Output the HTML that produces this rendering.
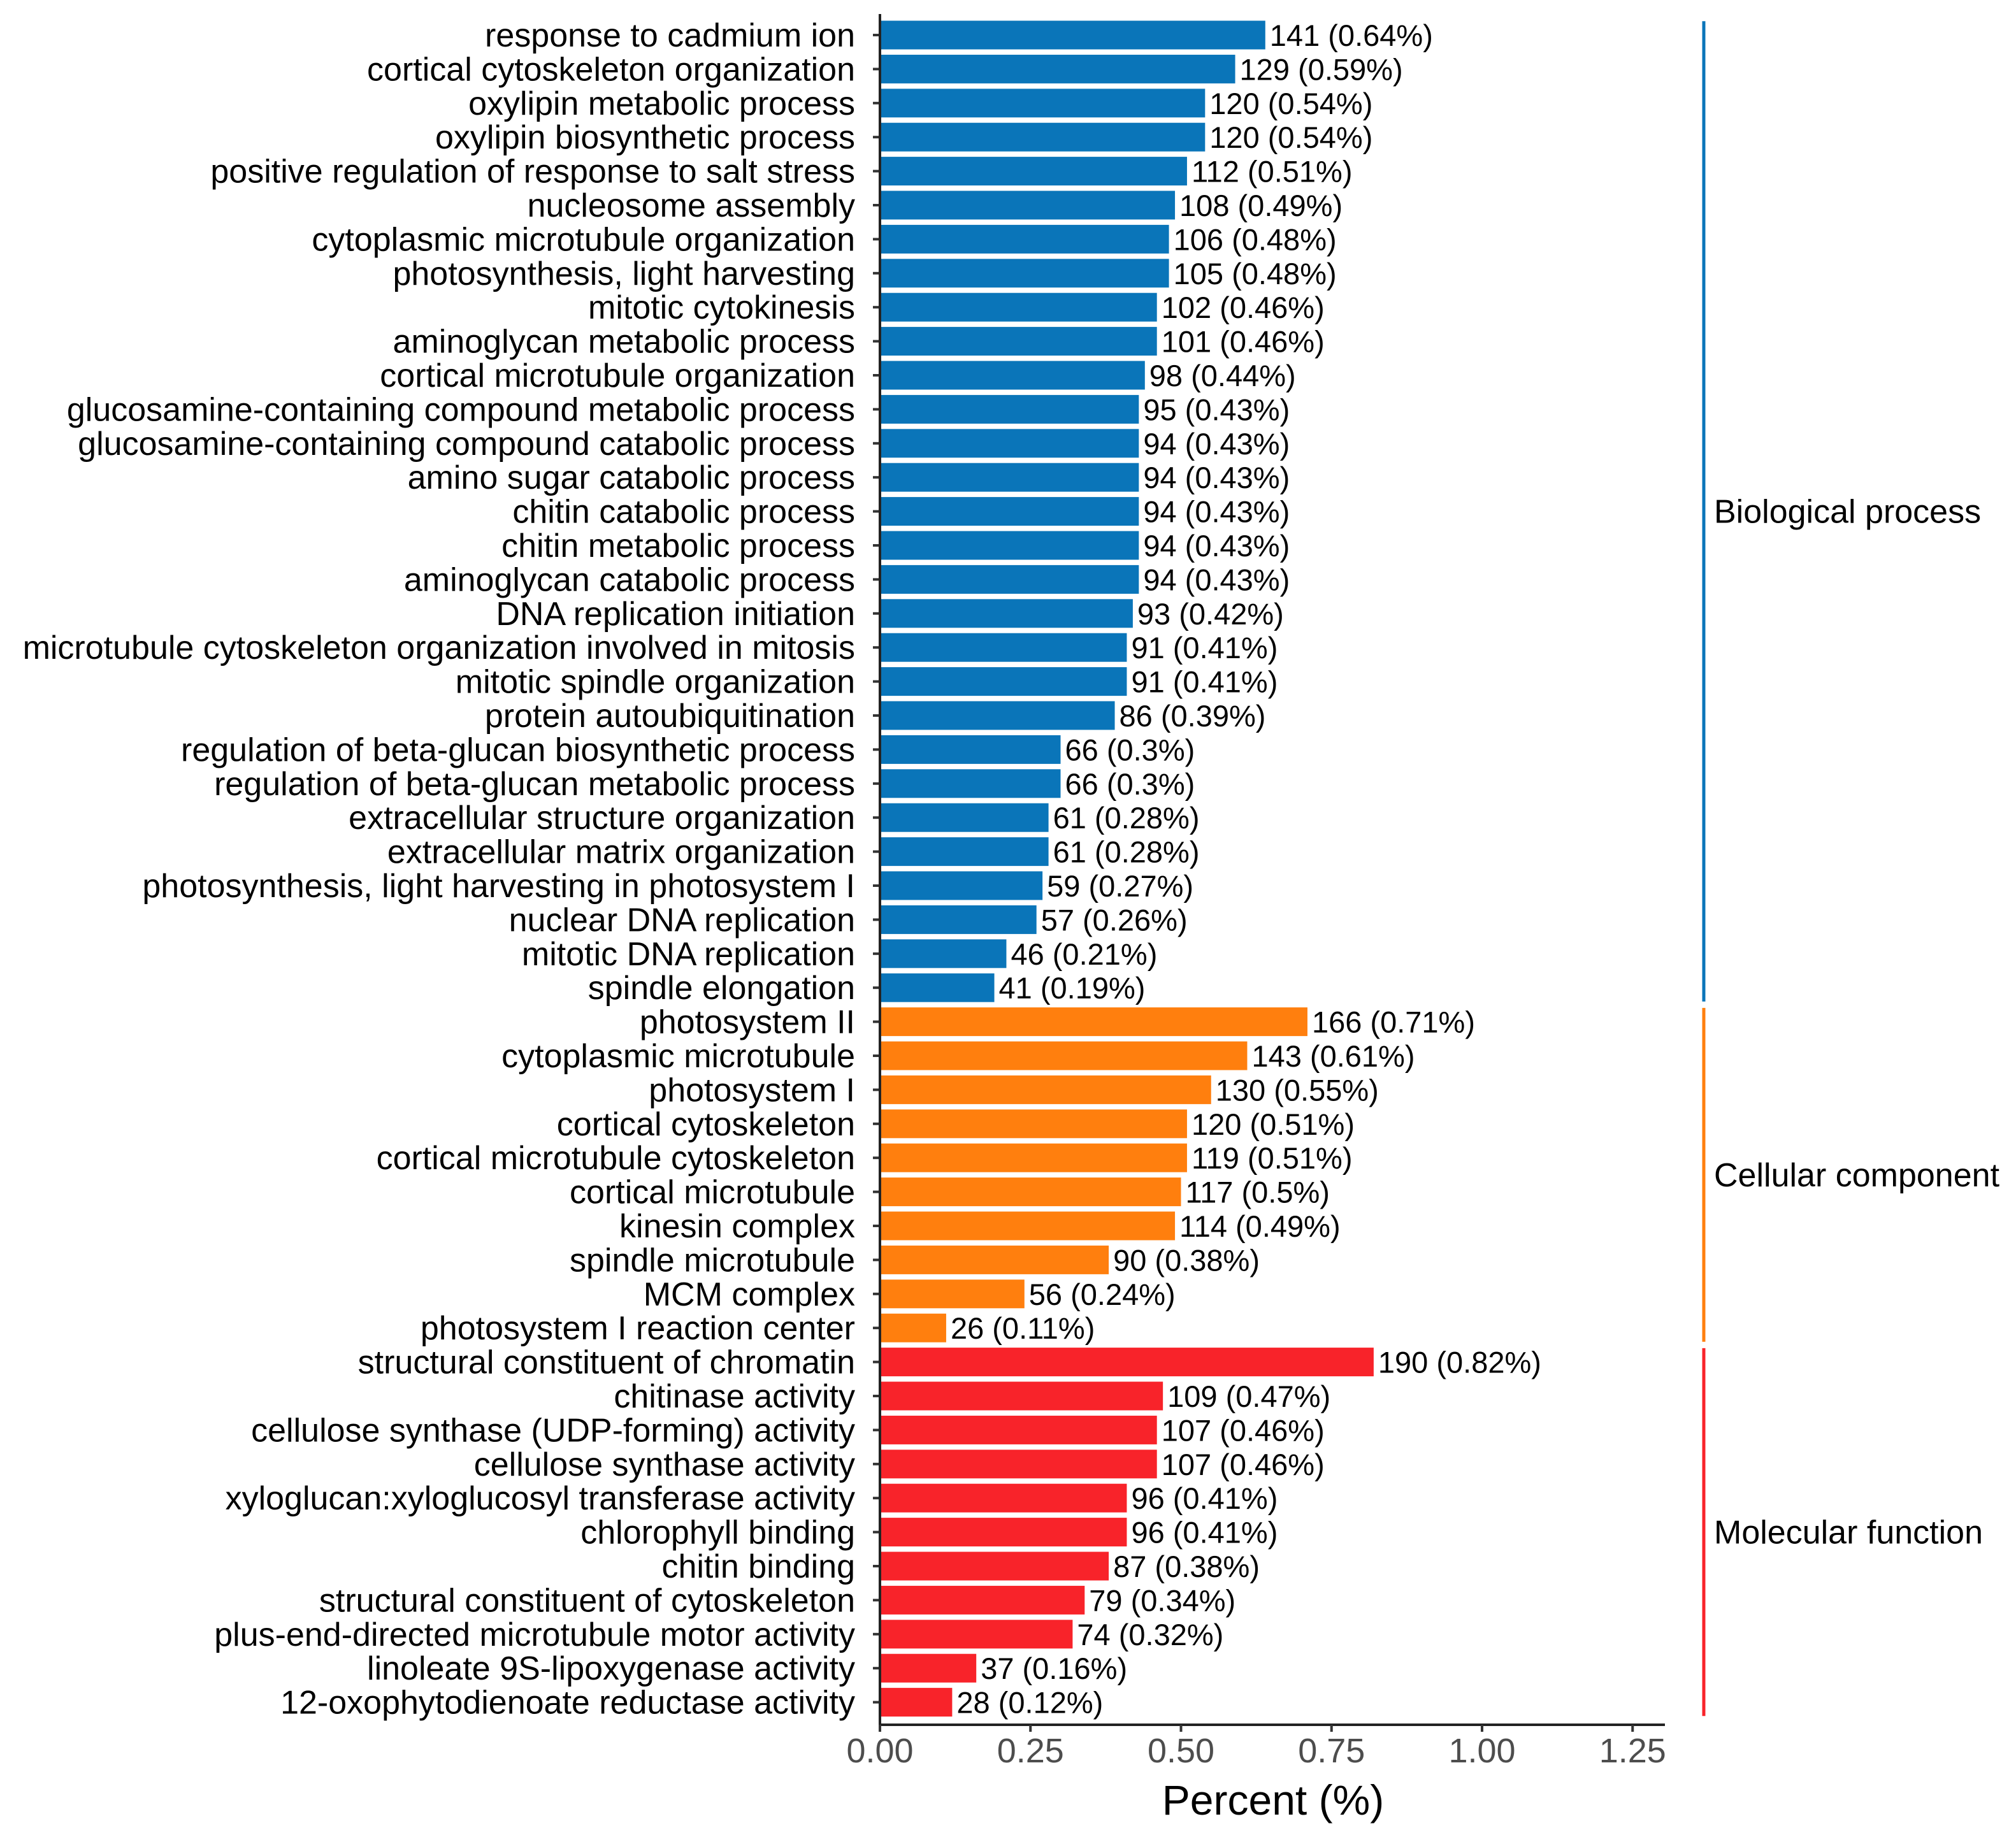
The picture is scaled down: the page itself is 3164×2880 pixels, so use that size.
<!DOCTYPE html>
<html><head><meta charset="utf-8"><style>
html,body{margin:0;padding:0;background:#fff;}
svg{display:block;font-family:"Liberation Sans",Arial,sans-serif;}
</style></head><body>
<svg id="chart" width="3164" height="2880" viewBox="0 0 3164 2880" xmlns="http://www.w3.org/2000/svg"></svg>
<script>
const categories = ["response to cadmium ion","cortical cytoskeleton organization","oxylipin metabolic process","oxylipin biosynthetic process","positive regulation of response to salt stress","nucleosome assembly","cytoplasmic microtubule organization","photosynthesis, light harvesting","mitotic cytokinesis","aminoglycan metabolic process","cortical microtubule organization","glucosamine-containing compound metabolic process","glucosamine-containing compound catabolic process","amino sugar catabolic process","chitin catabolic process","chitin metabolic process","aminoglycan catabolic process","DNA replication initiation","microtubule cytoskeleton organization involved in mitosis","mitotic spindle organization","protein autoubiquitination","regulation of beta-glucan biosynthetic process","regulation of beta-glucan metabolic process","extracellular structure organization","extracellular matrix organization","photosynthesis, light harvesting in photosystem I","nuclear DNA replication","mitotic DNA replication","spindle elongation","photosystem II","cytoplasmic microtubule","photosystem I","cortical cytoskeleton","cortical microtubule cytoskeleton","cortical microtubule","kinesin complex","spindle microtubule","MCM complex","photosystem I reaction center","structural constituent of chromatin","chitinase activity","cellulose synthase (UDP-forming) activity","cellulose synthase activity","xyloglucan:xyloglucosyl transferase activity","chlorophyll binding","chitin binding","structural constituent of cytoskeleton","plus-end-directed microtubule motor activity","linoleate 9S-lipoxygenase activity","12-oxophytodienoate reductase activity"];
const counts = [141,129,120,120,112,108,106,105,102,101,98,95,94,94,94,94,94,93,91,91,86,66,66,61,61,59,57,46,41,166,143,130,120,119,117,114,90,56,26,190,109,107,107,96,96,87,79,74,37,28];
const percents = [0.64,0.59,0.54,0.54,0.51,0.49,0.48,0.48,0.46,0.46,0.44,0.43,0.43,0.43,0.43,0.43,0.43,0.42,0.41,0.41,0.39,0.3,0.3,0.28,0.28,0.27,0.26,0.21,0.19,0.71,0.61,0.55,0.51,0.51,0.5,0.49,0.38,0.24,0.11,0.82,0.47,0.46,0.46,0.41,0.41,0.38,0.34,0.32,0.16,0.12];
const groups = ["BP","BP","BP","BP","BP","BP","BP","BP","BP","BP","BP","BP","BP","BP","BP","BP","BP","BP","BP","BP","BP","BP","BP","BP","BP","BP","BP","BP","BP","CC","CC","CC","CC","CC","CC","CC","CC","CC","CC","MF","MF","MF","MF","MF","MF","MF","MF","MF","MF","MF"];
const groupNames = ["Biological process","Cellular component","Molecular function"];
const groupKeys = ["BP","CC","MF"];
const xTicks = [0,0.25,0.5,0.75,1.0,1.25];
const xTickLabels = ["0.00","0.25","0.50","0.75","1.00","1.25"];

const svg = document.getElementById('chart');
const NS = "http://www.w3.org/2000/svg";
const colors = {BP:"#0a75b9",CC:"#ff7f0e",MF:"#f8232a"};
const x0 = 1381, pxPer = 945, top0 = 55, pitch = 53.4, barH = 45, axisY = 2707;
const n = categories.length;
const xs = v => x0 + v * pxPer;
const ys = i => top0 + i * pitch;
function mk(tag, attrs){ const e=document.createElementNS(NS,tag); for(const k in attrs) e.setAttribute(k,attrs[k]); svg.appendChild(e); return e; }

for(let i=0;i<n;i++){
  const cy = ys(i);
  const r = mk('rect',{x:x0,y:cy-barH/2,width:xs(percents[i])-x0,height:barH,fill:colors[groups[i]]});
  
  
  const l = mk('text',{x:1342,y:cy+18,'text-anchor':'end','font-size':52,fill:'#000'});
  l.textContent = categories[i];
  
  
  const t = mk('line',{x1:1370,x2:1381,y1:cy,y2:cy,stroke:'#333','stroke-width':4});
  
  
  const v = mk('text',{x:xs(percents[i])+7,y:cy+17,'font-size':47,fill:'#000'});
  v.textContent = counts[i]+' ('+percents[i]+'%)';
  
  
}
const ya = mk('line',{x1:x0,x2:x0,y1:22,y2:axisY,stroke:'#222','stroke-width':4});


const xa = mk('line',{x1:x0-2,x2:2613,y1:axisY,y2:axisY,stroke:'#222','stroke-width':4});


xTicks.forEach((tv,k)=>{
  const tk = mk('line',{x1:xs(tv),x2:xs(tv),y1:axisY,y2:axisY+11,stroke:'#333','stroke-width':4});
  
  
  const tl = mk('text',{x:xs(tv),y:2766,'text-anchor':'middle','font-size':54,fill:'#4d4d4d'});
  tl.textContent = xTickLabels[k];
  
  
});
const xt = mk('text',{x:1998,y:2848,'text-anchor':'middle','font-size':66,fill:'#000'});
xt.textContent = 'Percent (%)';



groupKeys.forEach((g,k)=>{
  const idx = groups.map((x,i)=>x===g?i:-1).filter(i=>i>=0);
  const a = ys(idx[0]) - pitch/2 + 5, b = ys(idx[idx.length-1]) + pitch/2 - 5;
  const ln = mk('line',{x1:2674,x2:2674,y1:a,y2:b,stroke:colors[g],'stroke-width':5});
  
  
  const gl = mk('text',{x:2690,y:(a+b)/2+18,'font-size':52,fill:'#000'});
  gl.textContent = groupNames[k];
  
  
});
</script>
</body></html>
